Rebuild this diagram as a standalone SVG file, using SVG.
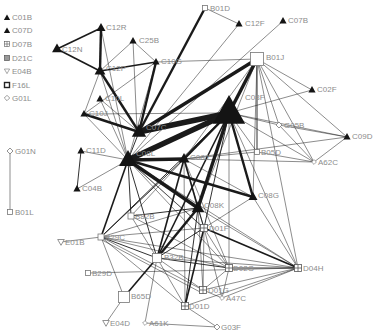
<svg xmlns="http://www.w3.org/2000/svg" xmlns:xlink="http://www.w3.org/1999/xlink" width="375" height="336" viewBox="0 0 375 336">
<style>
text{font-family:"Liberation Sans",Arial,sans-serif;font-size:8px;fill:#8c8c8c}
#edges path{fill:none;stroke:#1a1a1a}
.a{stroke-width:.5}.b{stroke-width:.9}.c{stroke-width:1.6}.d{stroke-width:2.4}.e{stroke-width:3.4}.f{stroke-width:5.5}
.sq{fill:#fff;stroke:#777;stroke-width:.8}
.tr{fill:#141414}
</style>
<defs>
<polygon id="tri" points="0,-1 0.9,0.6 -0.9,0.6"/>
<g id="grid"><rect x="-3.5" y="-3.5" width="7" height="7" fill="#fff" stroke="#555" stroke-width=".8"/><path d="M0,-3.5V3.5M-3.5,0H3.5" stroke="#555" stroke-width=".8"/></g>
<polygon id="dia" points="0,-3 3,0 0,3 -3,0" fill="#fff" stroke="#777" stroke-width=".8"/>
<polygon id="inv" points="-3.3,-2.5 3.3,-2.5 0,3.3" fill="#fff" stroke="#777" stroke-width=".8"/>
</defs>
<rect width="375" height="336" fill="#fff"/>
<g id="edges">
<path class="a" d="M10 151L10 212"/>
<path class="d" d="M101 28L100 71"/>
<path class="c" d="M101 28L57 49"/>
<path class="c" d="M57 49L100 71"/>
<path class="c" d="M100 71L156 62"/>
<path class="d" d="M100 71L139 132"/>
<path class="a" d="M100 71L133 41"/>
<path class="a" d="M100 71L84 114"/>
<path class="a" d="M100 71L128 160"/>
<path class="a" d="M101 28L128 160"/>
<path class="a" d="M133 41L156 62"/>
<path class="a" d="M133 41L137 130"/>
<path class="d" d="M156 62L139 132"/>
<path class="a" d="M156 62L257 59"/>
<path class="a" d="M156 62L84 114"/>
<path class="a" d="M156 62L128 160"/>
<path class="a" d="M100 99L139 132"/>
<path class="a" d="M100 99L128 160"/>
<path class="d" d="M84 114L139 132"/>
<path class="a" d="M84 114L229 113"/>
<path class="a" d="M84 114L128 160"/>
<path class="b" d="M81 151L77 189"/>
<path class="a" d="M81 151L128 160"/>
<path class="a" d="M77 189L128 160"/>
<path class="a" d="M205 8L239 24"/>
<path class="d" d="M205 8L139 132"/>
<path class="a" d="M239 24L128 160"/>
<path class="a" d="M283 21L128 160"/>
<path class="e" d="M257 59L139 132"/>
<path class="e" d="M257 59L229 113"/>
<path class="a" d="M257 59L312 90"/>
<path class="a" d="M257 59L347 137"/>
<path class="a" d="M257 59L279 125"/>
<path class="a" d="M257 59L314 162"/>
<path class="b" d="M257 59L257 152"/>
<path class="a" d="M257 59L253 197"/>
<path class="a" d="M257 59L184 159"/>
<path class="a" d="M257 59L198 208"/>
<path class="a" d="M257 59L298 268"/>
<path class="f" d="M139 132L229 113"/>
<path class="b" d="M139 132L128 160"/>
<path class="f" d="M128 160L229 113"/>
<path class="e" d="M128 160L184 159"/>
<path class="e" d="M128 160L198 208"/>
<path class="d" d="M128 160L253 197"/>
<path class="c" d="M128 160L101 237"/>
<path class="b" d="M128 160L131 216"/>
<path class="b" d="M128 160L157 258"/>
<path class="a" d="M128 160L204 228"/>
<path class="a" d="M130 162L206 230"/>
<path class="a" d="M128 160L229 268"/>
<path class="a" d="M128 160L298 268"/>
<path class="d" d="M229 113L184 159"/>
<path class="e" d="M229 113L198 208"/>
<path class="d" d="M229 113L253 197"/>
<path class="c" d="M229 113L157 258"/>
<path class="b" d="M229 113L204 228"/>
<path class="b" d="M229 113L101 237"/>
<path class="a" d="M229 113L312 90"/>
<path class="a" d="M229 113L279 125"/>
<path class="a" d="M229 113L347 137"/>
<path class="a" d="M229 113L314 162"/>
<path class="a" d="M229 113L257 152"/>
<path class="a" d="M229 113L298 268"/>
<path class="a" d="M229 113L229 268"/>
<path class="c" d="M184 159L198 208"/>
<path class="c" d="M184 159L157 258"/>
<path class="a" d="M184 159L347 137"/>
<path class="a" d="M184 159L314 162"/>
<path class="a" d="M184 159L257 152"/>
<path class="a" d="M184 159L131 216"/>
<path class="b" d="M184 159L101 237"/>
<path class="a" d="M184 159L204 228"/>
<path class="a" d="M184 159L185 306"/>
<path class="a" d="M184 159L229 268"/>
<path class="a" d="M184 159L253 197"/>
<path class="d" d="M198 208L157 258"/>
<path class="b" d="M198 208L131 216"/>
<path class="b" d="M198 208L204 228"/>
<path class="a" d="M198 208L298 268"/>
<path class="a" d="M198 208L101 237"/>
<path class="b" d="M198 208L185 306"/>
<path class="a" d="M198 208L203 290"/>
<path class="a" d="M253 197L204 228"/>
<path class="a" d="M253 197L298 268"/>
<path class="a" d="M279 125L347 137"/>
<path class="a" d="M279 125L314 162"/>
<path class="a" d="M347 137L314 162"/>
<path class="a" d="M257 152L314 162"/>
<path class="a" d="M131 216L229 268"/>
<path class="a" d="M131 216L157 258"/>
<path class="a" d="M101 237L61 242"/>
<path class="a" d="M101 237L124 297"/>
<path class="b" d="M101 237L157 258"/>
<path class="a" d="M101 237L204 228"/>
<path class="a" d="M101 237L203 290"/>
<path class="a" d="M102 240L202 293"/>
<path class="a" d="M101 237L229 268"/>
<path class="a" d="M101 237L298 268"/>
<path class="a" d="M101 237L185 306"/>
<path class="a" d="M88 273L298 268"/>
<path class="c" d="M157 258L124 297"/>
<path class="b" d="M157 258L204 228"/>
<path class="b" d="M157 258L229 268"/>
<path class="a" d="M157 258L298 268"/>
<path class="a" d="M157 258L203 290"/>
<path class="a" d="M157 258L185 306"/>
<path class="a" d="M157 258L145 323"/>
<path class="a" d="M106 323L124 297"/>
<path class="c" d="M204 228L185 306"/>
<path class="c" d="M204 228L298 268"/>
<path class="a" d="M204 228L229 268"/>
<path class="a" d="M204 228L203 290"/>
<path class="a" d="M204 228L222 298"/>
<path class="b" d="M229 268L298 268"/>
<path class="a" d="M203 290L298 268"/>
<path class="a" d="M203 290L229 268"/>
<path class="a" d="M222 298L298 268"/>
<path class="a" d="M222 298L229 268"/>
<path class="a" d="M222 298L203 290"/>
<path class="a" d="M185 306L217 327"/>
<path class="a" d="M145 323L217 327"/>
<path class="a" d="M185 306L298 268"/>
</g>
<g id="legend">
<use href="#tri" class="tr" transform="translate(7,18) scale(3.5)"/><text x="12" y="20">C01B</text>
<use href="#tri" class="tr" transform="translate(7,31) scale(3.5)"/><text x="12" y="33">C07D</text>
<use href="#grid" transform="translate(7,44) scale(.75)"/><text x="12" y="47">D07B</text>
<rect x="4.5" y="55.5" width="5" height="5" fill="#999" stroke="#555" stroke-width=".7"/><text x="12" y="61">D21C</text>
<use href="#inv" transform="translate(7,71) scale(.8)"/><text x="12" y="74">E04B</text>
<rect x="4.5" y="82.5" width="5" height="5" fill="#fff" stroke="#222" stroke-width="1.4"/><text x="12" y="88">F16L</text>
<use href="#dia" transform="translate(7,98) scale(.9)"/><text x="12" y="101">G01L</text>
</g>
<g id="n-C12R"><use href="#tri" class="tr" transform="translate(101,28) scale(5)"/><text x="106" y="30">C12R</text></g>
<g id="n-C12N"><use href="#tri" class="tr" transform="translate(57,49) scale(5.5)"/><text x="62" y="52">C12N</text></g>
<g id="n-C25B"><use href="#tri" class="tr" transform="translate(133,41) scale(4)"/><text x="139" y="43">C25B</text></g>
<g id="n-C10G"><use href="#tri" class="tr" transform="translate(156,62) scale(4)"/><text x="161" y="64">C10G</text></g>
<g id="n-C12P"><use href="#tri" class="tr" transform="translate(100,71) scale(6)"/><text x="106" y="71">C12P</text></g>
<g id="n-C10L"><use href="#tri" class="tr" transform="translate(100,99) scale(4)"/><text x="105" y="101">C10L</text></g>
<g id="n-C10J"><use href="#tri" class="tr" transform="translate(84,114) scale(4)"/><text x="89" y="116">C10J</text></g>
<g id="n-C07C"><use href="#tri" class="tr" transform="translate(139,132) scale(8)"/><text x="146" y="130">C07C</text></g>
<g id="n-C08L"><use href="#tri" class="tr" transform="translate(128,160) scale(10)"/><text x="136" y="156">C08L</text></g>
<g id="n-C11D"><use href="#tri" class="tr" transform="translate(81,151) scale(4)"/><text x="86" y="153">C11D</text></g>
<g id="n-C04B"><use href="#tri" class="tr" transform="translate(77,189) scale(4)"/><text x="82" y="191">C04B</text></g>
<g id="n-G01N"><use href="#dia" transform="translate(10,151)"/><text x="15" y="154">G01N</text></g>
<g id="n-B01L"><rect class="sq" x="7.5" y="209.5" width="5" height="5"/><text x="15" y="215">B01L</text></g>
<g id="n-B01D"><rect class="sq" x="202.5" y="5.5" width="5" height="5"/><text x="210" y="11">B01D</text></g>
<g id="n-C12F"><use href="#tri" class="tr" transform="translate(239,24) scale(4)"/><text x="245" y="26">C12F</text></g>
<g id="n-C07B"><use href="#tri" class="tr" transform="translate(283,21) scale(4)"/><text x="288" y="23">C07B</text></g>
<g id="n-B01J"><rect class="sq" x="250.5" y="52.5" width="13" height="13"/><text x="266" y="60">B01J</text></g>
<g id="n-C02F"><use href="#tri" class="tr" transform="translate(312,90) scale(4)"/><text x="317" y="92">C02F</text></g>
<g id="n-C08F"><use href="#tri" class="tr" transform="translate(229,113) scale(18)"/><text x="245" y="100">C08F</text></g>
<g id="n-G05B"><use href="#dia" transform="translate(279,125)"/><text x="284" y="128">G05B</text></g>
<g id="n-C09D"><use href="#tri" class="tr" transform="translate(347,137) scale(4)"/><text x="352" y="139">C09D</text></g>
<g id="n-B05D"><rect class="sq" x="254.5" y="149.5" width="5" height="5"/><text x="261" y="155">B05D</text></g>
<g id="n-A62C"><use href="#dia" transform="translate(314,162) scale(.8)"/><text x="318" y="165">A62C</text></g>
<g id="n-C08J"><use href="#tri" class="tr" transform="translate(184,159) scale(6)"/><text x="190" y="160">C08J</text></g>
<g id="n-C08G"><use href="#tri" class="tr" transform="translate(253,197) scale(5)"/><text x="258" y="198">C08G</text></g>
<g id="n-C08K"><use href="#tri" class="tr" transform="translate(198,208) scale(7)"/><text x="204" y="208">C08K</text></g>
<g id="n-B82B"><rect class="sq" x="128" y="213" width="6" height="6"/><text x="135" y="219">B82B</text></g>
<g id="n-B29C"><rect class="sq" x="98" y="234" width="6" height="6"/><text x="105" y="240">B29C</text></g>
<g id="n-E01B"><use href="#inv" transform="translate(61,242)"/><text x="65" y="245">E01B</text></g>
<g id="n-D01F"><use href="#grid" transform="translate(204,228)"/><text x="209" y="231">D01F</text></g>
<g id="n-B32B"><rect class="sq" x="152.5" y="253.5" width="9" height="9"/><text x="164" y="260">B32B</text></g>
<g id="n-D02G"><use href="#grid" transform="translate(229,268)"/><text x="233" y="271">D02G</text></g>
<g id="n-D04H"><use href="#grid" transform="translate(298,268)"/><text x="303" y="271">D04H</text></g>
<g id="n-B29D"><rect class="sq" x="85.5" y="270.5" width="5" height="5"/><text x="92" y="276">B29D</text></g>
<g id="n-D01G"><use href="#grid" transform="translate(203,290)"/><text x="208" y="293">D01G</text></g>
<g id="n-A47C"><use href="#dia" transform="translate(222,298) scale(.8)"/><text x="226" y="301">A47C</text></g>
<g id="n-B65D"><rect class="sq" x="118.5" y="291.5" width="11" height="11"/><text x="131" y="299">B65D</text></g>
<g id="n-D01D"><use href="#grid" transform="translate(185,306)"/><text x="189" y="309">D01D</text></g>
<g id="n-E04D"><use href="#inv" transform="translate(106,323)"/><text x="110" y="326">E04D</text></g>
<g id="n-A61K"><use href="#dia" transform="translate(145,323) scale(.8)"/><text x="149" y="326">A61K</text></g>
<g id="n-G03F"><use href="#dia" transform="translate(217,327)"/><text x="221" y="330">G03F</text></g>
</svg>
